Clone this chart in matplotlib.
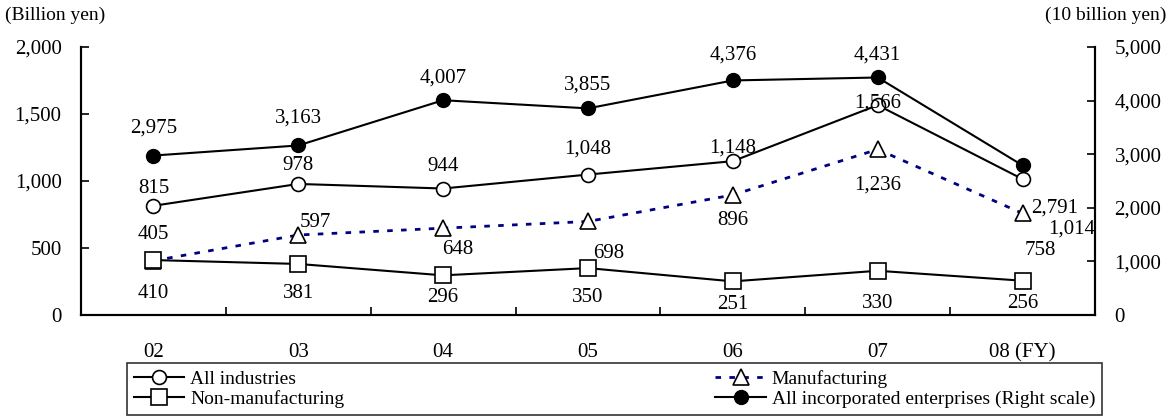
import numpy as np
import matplotlib.pyplot as plt
from matplotlib.ticker import FuncFormatter, FixedLocator

plt.rcParams['font.family'] = ['Liberation Serif', 'DejaVu Serif']

years = ["02", "03", "04", "05", "06", "07", "08 (FY)"]
all_ind = [815, 978, 944, 1048, 1148, 1566, 1014]
manuf = [405, 597, 648, 698, 896, 1236, 758]
non_manuf = [410, 381, 296, 350, 251, 330, 256]
all_corp = [2975, 3163, 4007, 3855, 4376, 4431, 2791]

# label offsets in pixels (dx, dy)
off_all = [(0, 17), (0, 18), (0, 22), (0, 26), (0, 13), (0, 2), (49, -50)]
off_man = [(0, 26), (17, 13), (15, -21), (21, -32), (0, -26), (0, -36), (18, -37)]
off_non = [(0, -33), (0, -30), (0, -22), (0, -29), (0, -23), (0, -33), (0, -23)]
off_corp = [(0, 27), (0, 27), (0, 22), (0, 23), (0, 25), (0, 22), (32, -43)]

fs = 15
x = np.arange(len(years))

fig = plt.figure(figsize=(11.71, 4.18), dpi=100)
ax = fig.add_axes([81/1171, 1 - 315/418, 1014/1171, 268/418])
ax2 = ax.twinx()

l_man, = ax.plot(x, manuf, color="#000080", lw=2, ls=(0, (2, 3)), marker="^",
                 ms=11, mfc="white", mec="black", mew=1.2, zorder=2)
l_non, = ax.plot(x, non_manuf, color="black", lw=1.5, marker="s",
                 ms=11, mfc="white", mec="black", mew=1.2, zorder=3)
l_all, = ax.plot(x, all_ind, color="black", lw=1.5, marker="o",
                 ms=10, mfc="white", mec="black", mew=1.2, zorder=3)
l_corp, = ax2.plot(x, all_corp, color="black", lw=1.5, marker="o",
                   ms=10, mfc="black", mec="black", zorder=3)

def label(axis, vals, offs):
    for xi, v, (dx, dy) in zip(x, vals, offs):
        axis.annotate("{:,}".format(v), (xi, v), xytext=(dx, dy),
                      textcoords="offset pixels", ha="center", va="center",
                      fontsize=fs, zorder=5)

label(ax, all_ind, off_all)
label(ax, manuf, off_man)
label(ax, non_manuf, off_non)
label(ax2, all_corp, off_corp)

ax.set_xlim(-0.5, len(years) - 0.5)
ax.set_ylim(0, 2000)
ax2.set_ylim(0, 5000)
ax.set_yticks(range(0, 2001, 500))
ax2.set_yticks(range(0, 5001, 1000))
fmt = FuncFormatter(lambda v, p: "{:,}".format(int(v)))
ax.yaxis.set_major_formatter(fmt)
ax2.yaxis.set_major_formatter(fmt)

ax.set_xticks(x)
ax.set_xticklabels(years)
ax.xaxis.set_minor_locator(FixedLocator(np.arange(0.5, len(years) - 1, 1)))
ax.tick_params(axis="x", which="major", length=0, pad=20, labelsize=fs)
ax.tick_params(axis="x", which="minor", direction="in", length=6, width=1.2)
ax.tick_params(axis="y", direction="in", length=6, width=1.2, pad=14, labelsize=fs)
ax2.tick_params(axis="y", direction="in", length=6, width=1.2, pad=14, labelsize=fs)

for a in (ax, ax2):
    a.spines["top"].set_visible(False)
    for s in ("left", "right", "bottom"):
        a.spines[s].set_linewidth(1.5)

fig.text(5/1171, 1 - 15/418, "(Billion yen)", fontsize=fs - 1, va="center", ha="left")
fig.text(1166/1171, 1 - 15/418, "(10 billion yen)", fontsize=fs - 1, va="center", ha="right")

leg = fig.legend([l_all, l_non, l_man, l_corp],
                 ["All industries", "Non-manufacturing", "Manufacturing",
                  "All incorporated enterprises (Right scale)"],
                 ncol=2, loc="upper left", mode="expand",
                 bbox_to_anchor=(127/1171, 0, 975/1171, 1 - 363/418),
                 fontsize=fs - 1, frameon=True, fancybox=False, handlelength=2.6,
                 handletextpad=0.3, labelspacing=0.12, borderpad=0.35, borderaxespad=0)
leg.get_frame().set_edgecolor("black")
leg.get_frame().set_linewidth(1.2)

fig.savefig("out.png", dpi=100)
